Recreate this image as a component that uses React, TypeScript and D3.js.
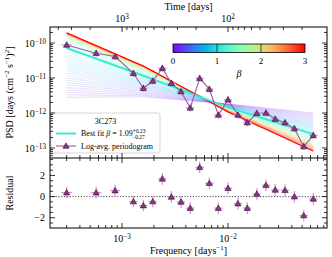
import React from "react";
import * as d3 from "d3";

// log-averaged periodogram bins of 3C273
const FREQ = [
  3.0e-4, 5.7e-4, 8.6e-4, 1.28e-3, 1.59e-3, 1.95e-3, 2.4e-3, 2.92e-3, 3.6e-3, 4.4e-3, 5.4e-3, 6.67e-3,
  8.1e-3, 1.0e-2, 1.24e-2, 1.52e-2, 1.87e-2, 2.28e-2, 2.79e-2, 3.45e-2, 4.23e-2, 5.18e-2, 6.38e-2,
];
const PSD = [
  8.8e-11, 5.1e-11, 4.1e-11, 1.36e-11, 5.1e-12, 8.2e-12, 1.9e-11, 7.1e-12, 4.1e-12, 1.4e-12, 9.8e-12, 4.8e-12,
  8.8e-13, 2.4e-12, 8.8e-13, 5.3e-13, 9.8e-13, 1.0e-12, 6.7e-13, 5.3e-13, 3.6e-13, 1.1e-13, 2.3e-13,
];
const PSD_ERR_DEX = [
  0.1, 0.1, 0.1, 0.1, 0.1, 0.1, 0.1, 0.1, 0.1, 0.1, 0.1, 0.1,
  0.1, 0.1, 0.1, 0.1, 0.1, 0.1, 0.1, 0.1, 0.1, 0.1, 0.1,
];
const BIN_HW_DEX = [
  0.05, 0.05, 0.045, 0.04, 0.04, 0.04, 0.04, 0.04, 0.04, 0.04, 0.04, 0.04,
  0.04, 0.04, 0.04, 0.04, 0.04, 0.04, 0.04, 0.04, 0.04, 0.04, 0.04,
];
const RESID = [
  0.38, 0.38, 0.57, -0.47, -0.85, -0.47, 1.68, -0.03, -0.5, -1.09, 2.77, 1.26,
  -1.09, 0.79, -0.66, -1.09, 0.25, 1.07, 0.63, 0.6, 0.0, -1.79, -0.22,
];
const RESID_ERR = [
  0.55, 0.55, 0.55, 0.55, 0.55, 0.55, 0.55, 0.55, 0.55, 0.55, 0.55, 0.55,
  0.55, 0.55, 0.55, 0.55, 0.55, 0.55, 0.55, 0.55, 0.55, 0.55, 0.55,
];

// simulated model PSD (log10) for a grid of beta, at a few frequency nodes
const MODEL_BETAS = [0, 0.5, 1, 1.5, 2, 2.5, 3];
const MODEL_NODES = [3.0e-4, 1.6e-3, 1.0e-2, 6.4e-2];
const MODEL_LOGP = [
  [-11.55, -11.54, -11.74, -12.0],
  [-10.86, -11.23, -11.79, -12.31],
  [-10.2, -10.97, -11.83, -12.57],
  [-9.88, -10.8, -11.87, -12.76],
  [-9.78, -10.72, -11.91, -12.9],
  [-9.74, -10.68, -11.94, -12.99],
  [-9.71, -10.66, -11.97, -13.09],
];
const BEST_BETA = 1.09;
const CBAR_TICKS = [0, 1, 2, 3];
const RES_MAJOR = [-2, 0, 2];

const FONT = "'Liberation Serif', 'DejaVu Serif', serif";
const X0 = 50, X1 = 327, Y0 = 27, Y1 = 158, Y2 = 228;

const x = d3.scaleLog().domain([2.09e-4, 0.0859]).range([X0, X1]);
const yMain = d3.scaleLog().domain([Math.pow(10, -13.286), Math.pow(10, -9.543)]).range([Y1, Y0]);
const yRes = d3.scaleLinear().domain([-2.97, 3.65]).range([Y2, Y1]);
const tScale = d3.scaleLog().domain([1 / 0.0859, 1 / 2.09e-4]);

// matplotlib "rainbow"
const rainbow = (t: number) => {
  const r = Math.min(1, Math.abs(2 * t - 0.5));
  const g = Math.sin(Math.PI * t);
  const b = Math.cos((Math.PI * t) / 2);
  return d3.rgb(r * 255, g * 255, b * 255).formatHex();
};

const logNodes = MODEL_NODES.map(Math.log10);
function modelLogP(f: number, beta: number) {
  const vals = MODEL_NODES.map((_, j) =>
    d3.scaleLinear().domain(MODEL_BETAS).range(MODEL_LOGP.map((r) => r[j]))(beta)
  );
  return d3.scaleLinear().domain(logNodes).range(vals)(Math.log10(f));
}

const line = d3
  .line<[number, number]>()
  .x((d) => x(d[0]))
  .y((d) => yMain(d[1]));

const modelPath = (beta: number) =>
  line(FREQ.map((f) => [f, Math.pow(10, modelLogP(f, beta))] as [number, number])) || "";

const isMajor = (v: number) => Math.abs(Math.log10(v) - Math.round(Math.log10(v))) < 1e-6;

const Pow = ({ e }: { e: number }) => (
  <>
    10
    <tspan dy="-0.45em" fontSize="0.72em">
      {e < 0 ? "\u2212" + -e : e}
    </tspan>
  </>
);

const tri = d3.symbol().type(d3.symbolTriangle).size(17)() || "";

const LINE_C = "#a0569e";
const ERR_C = "#e68ee2";
const TRI_FILL = "#853a80";
const TRI_EDGE = "#2a1028";

export default function App() {
  const fanBetas = d3.range(0, 3.0001, 0.05);
  const xTicks = x.ticks();
  const yTicks = yMain.ticks();
  const tTicks = tScale.ticks();
  const resMinor = d3.range(-3, 3.51, 0.5);
  const pts = FREQ.map((f, i) => [f, PSD[i]] as [number, number]);

  return (
    <svg width={332} height={257} style={{ position: "absolute", left: 0, top: 0 }} fontFamily={FONT}>
      <defs>
        <linearGradient id="cbar" x1="0" x2="1" y1="0" y2="0">
          {d3.range(0, 1.001, 0.05).map((t) => (
            <stop key={t} offset={t} stopColor={rainbow(t)} />
          ))}
        </linearGradient>
        <clipPath id="mainClip">
          <rect x={X0} y={Y0} width={X1 - X0} height={Y1 - Y0} />
        </clipPath>
      </defs>
      <rect width={332} height={257} fill="white" />

      {/* model fan */}
      <g clipPath="url(#mainClip)" fill="none">
        {fanBetas.map((b) => (
          <path key={b} d={modelPath(b)} stroke={rainbow(b / 3)} strokeWidth={0.5} opacity={0.32} />
        ))}
        <path d={modelPath(3)} stroke={rainbow(1)} strokeWidth={1.1} />
        <path d={modelPath(BEST_BETA)} stroke={rainbow(BEST_BETA / 3)} strokeWidth={2} />
      </g>

      {/* periodogram */}
      <path d={line(pts) || ""} fill="none" stroke={LINE_C} strokeWidth={1.1} />
      {pts.map(([f, p], i) => (
        <g key={i} stroke={ERR_C} strokeWidth={1.3}>
          <line x1={x(f / Math.pow(10, BIN_HW_DEX[i]))} x2={x(f * Math.pow(10, BIN_HW_DEX[i]))} y1={yMain(p)} y2={yMain(p)} />
          <line x1={x(f)} x2={x(f)} y1={yMain(p / Math.pow(10, PSD_ERR_DEX[i]))} y2={yMain(p * Math.pow(10, PSD_ERR_DEX[i]))} />
        </g>
      ))}
      {pts.map(([f, p], i) => (
        <path key={i} d={tri} transform={`translate(${x(f)},${yMain(p) + 0.5})`} fill={TRI_FILL} stroke={TRI_EDGE} strokeWidth={0.6} />
      ))}

      {/* legend */}
      <g fontSize={8}>
        <rect x={51} y={113} width={109} height={40} rx={2} fill="white" fillOpacity={0.85} stroke="#cccccc" strokeWidth={0.8} />
        <text x={105.5} y={123.5} textAnchor="middle">3C273</text>
        <line x1={56} x2={76} y1={133.5} y2={133.5} stroke={rainbow(BEST_BETA / 3)} strokeWidth={2} />
        <text x={81} y={136}>
          Best fit <tspan fontStyle="italic">β</tspan> = 1.09
          <tspan dy="-3" fontSize={5.5}>+0.23</tspan>
          <tspan dx="-13.5" dy="5.5" fontSize={5.5}>−0.27</tspan>
        </text>
        <line x1={56} x2={76} y1={146} y2={146} stroke={LINE_C} strokeWidth={1.1} />
        <line x1={62} x2={70} y1={146} y2={146} stroke={ERR_C} strokeWidth={1.3} />
        <path d={tri} transform="translate(66,146.5)" fill={TRI_FILL} stroke={TRI_EDGE} strokeWidth={0.6} />
        <text x={81} y={149}>Log-avg. periodogram</text>
      </g>

      {/* colorbar */}
      <g>
        <rect x={173} y={44} width={132} height={8.5} fill="url(#cbar)" stroke="black" strokeWidth={0.8} />
        {CBAR_TICKS.map((t) => {
          const cx = 173 + (t / 3) * 132;
          return (
            <g key={t}>
              {t > 0 && t < 3 && <line x1={cx} x2={cx} y1={44} y2={52.5} stroke="#222" strokeWidth={0.8} />}
              <text x={cx} y={64} fontSize={9} textAnchor="middle">{t}</text>
            </g>
          );
        })}
        <text x={239} y={77} fontSize={10} fontStyle="italic" textAnchor="middle">β</text>
      </g>

      {/* residuals */}
      <line x1={X0} x2={X1} y1={yRes(0)} y2={yRes(0)} stroke="#333" strokeWidth={0.9} strokeDasharray="1.2,1.6" />
      {FREQ.map((f, i) => (
        <g key={i} stroke={ERR_C} strokeWidth={1.3}>
          <line x1={x(f / Math.pow(10, BIN_HW_DEX[i]))} x2={x(f * Math.pow(10, BIN_HW_DEX[i]))} y1={yRes(RESID[i])} y2={yRes(RESID[i])} />
          <line x1={x(f)} x2={x(f)} y1={yRes(RESID[i] - RESID_ERR[i])} y2={yRes(RESID[i] + RESID_ERR[i])} />
        </g>
      ))}
      {FREQ.map((f, i) => (
        <path key={i} d={tri} transform={`translate(${x(f)},${yRes(RESID[i]) + 0.5})`} fill={TRI_FILL} stroke={TRI_EDGE} strokeWidth={0.6} />
      ))}

      {/* frames */}
      <rect x={X0} y={Y0} width={X1 - X0} height={Y2 - Y0} fill="none" stroke="black" strokeWidth={1} />
      <line x1={X0} x2={X1} y1={Y1} y2={Y1} stroke="black" strokeWidth={1} />

      {/* ticks */}
      <g stroke="black" strokeWidth={0.8}>
        {xTicks.map((t, i) => {
          const L = isMajor(t) ? 5 : 3;
          const xx = x(t);
          return (
            <g key={i}>
              <line x1={xx} x2={xx} y1={Y1} y2={Y1 - L} />
              <line x1={xx} x2={xx} y1={Y1} y2={Y1 + L} />
              <line x1={xx} x2={xx} y1={Y2} y2={Y2 - L} />
            </g>
          );
        })}
        {tTicks.map((t, i) => {
          const L = isMajor(t) ? 5 : 3;
          const xx = x(1 / t);
          return <line key={i} x1={xx} x2={xx} y1={Y0} y2={Y0 + L} />;
        })}
        {yTicks.map((t, i) => {
          const L = isMajor(t) ? 5 : 3;
          const yy = yMain(t);
          return (
            <g key={i}>
              <line x1={X0} x2={X0 + L} y1={yy} y2={yy} />
              <line x1={X1} x2={X1 - L} y1={yy} y2={yy} />
            </g>
          );
        })}
        {resMinor.map((t, i) => {
          const L = RES_MAJOR.includes(t) ? 5 : 3;
          const yy = yRes(t);
          if (yy > Y2 || yy < Y1) return null;
          return (
            <g key={i}>
              <line x1={X0} x2={X0 + L} y1={yy} y2={yy} />
              <line x1={X1} x2={X1 - L} y1={yy} y2={yy} />
            </g>
          );
        })}
      </g>

      {/* tick labels */}
      <g fontSize={10}>
        {xTicks.filter(isMajor).map((t) => (
          <text key={t} x={x(t)} y={242} textAnchor="middle">
            <Pow e={Math.round(Math.log10(t))} />
          </text>
        ))}
        {tTicks.filter(isMajor).map((t) => (
          <text key={t} x={x(1 / t)} y={22} textAnchor="middle">
            <Pow e={Math.round(Math.log10(t))} />
          </text>
        ))}
        {yTicks.filter(isMajor).map((t) => (
          <text key={t} x={46} y={yMain(t) + 4} textAnchor="end">
            <Pow e={Math.round(Math.log10(t))} />
          </text>
        ))}
        {RES_MAJOR.map((t) => (
          <text key={t} x={45} y={yRes(t) + 3.5} textAnchor="end">
            {t < 0 ? "\u2212" + -t : t}
          </text>
        ))}
      </g>

      {/* axis titles */}
      <g fontSize={10}>
        <text x={(X0 + X1) / 2} y={10} textAnchor="middle">Time [days]</text>
        <text x={(X0 + X1) / 2} y={254} textAnchor="middle">
          Frequency [days<tspan dy="-4" fontSize={7}>−1</tspan>
          <tspan dy="4">]</tspan>
        </text>
        <text transform={`translate(13,${(Y0 + Y1) / 2}) rotate(-90)`} textAnchor="middle">
          PSD [days (cm<tspan dy="-4" fontSize={7}>−2</tspan>
          <tspan dy="4"> s</tspan>
          <tspan dy="-4" fontSize={7}>−1</tspan>
          <tspan dy="4">)</tspan>
          <tspan dy="-4" fontSize={7}>2</tspan>
          <tspan dy="4">]</tspan>
        </text>
        <text transform={`translate(13,${(Y1 + Y2) / 2}) rotate(-90)`} textAnchor="middle">Residual</text>
      </g>
    </svg>
  );
}
